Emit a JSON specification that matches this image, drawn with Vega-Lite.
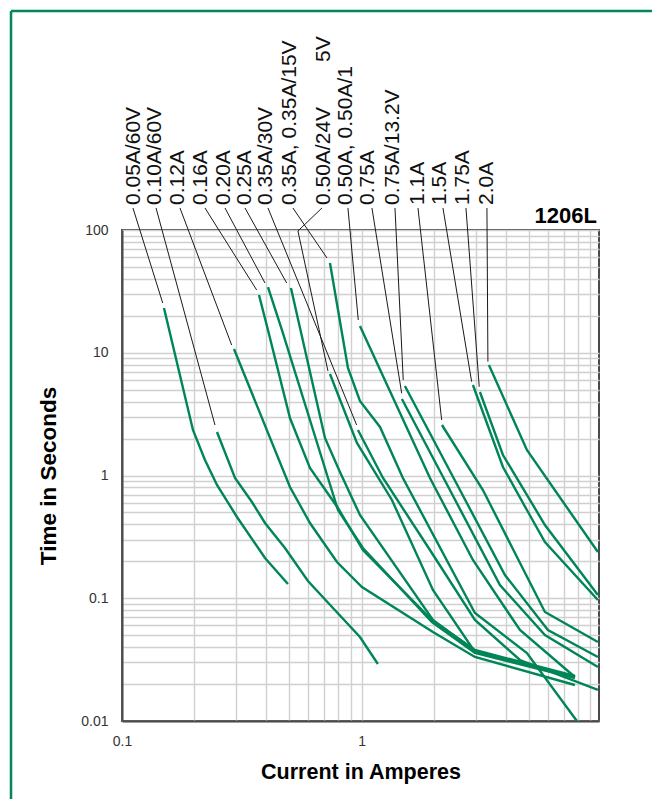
{
  "$schema": "https://vega.github.io/schema/vega-lite/v6.json",
  "width": 477,
  "height": 491,
  "autosize": {"type": "none"},
  "padding": {"left": 122, "top": 230, "right": 53, "bottom": 78},
  "background": "white",
  "config": {"view": {"stroke": "#4a4a4a", "strokeWidth": 2}, "font": "Liberation Sans"},
  "datasets": {
    "curves": [
      {"s": "0.05A/60V", "o": 1, "I": 0.1497, "t": 23.15}, {"s": "0.05A/60V", "o": 2, "I": 0.1978, "t": 2.348}, {"s": "0.05A/60V", "o": 3, "I": 0.222, "t": 1.338}, {"s": "0.05A/60V", "o": 4, "I": 0.2492, "t": 0.8367}, {"s": "0.05A/60V", "o": 5, "I": 0.302, "t": 0.4591}, {"s": "0.05A/60V", "o": 6, "I": 0.3953, "t": 0.2128}, {"s": "0.05A/60V", "o": 7, "I": 0.493, "t": 0.1307},
      {"s": "0.10A/60V", "o": 1, "I": 0.2492, "t": 2.262}, {"s": "0.10A/60V", "o": 2, "I": 0.2963, "t": 0.9541}, {"s": "0.10A/60V", "o": 3, "I": 0.3487, "t": 0.6083}, {"s": "0.10A/60V", "o": 4, "I": 0.3953, "t": 0.4102}, {"s": "0.10A/60V", "o": 5, "I": 0.4789, "t": 0.2566}, {"s": "0.10A/60V", "o": 6, "I": 0.5974, "t": 0.1382}, {"s": "0.10A/60V", "o": 7, "I": 0.7597, "t": 0.08329}, {"s": "0.10A/60V", "o": 8, "I": 0.9847, "t": 0.04833}, {"s": "0.10A/60V", "o": 9, "I": 1.17, "t": 0.02913},
      {"s": "0.12A", "o": 1, "I": 0.2934, "t": 10.73}, {"s": "0.12A", "o": 2, "I": 0.5025, "t": 0.8058}, {"s": "0.12A", "o": 3, "I": 0.609, "t": 0.4102}, {"s": "0.12A", "o": 4, "I": 0.7896, "t": 0.1974}, {"s": "0.12A", "o": 5, "I": 1.004, "t": 0.1235}, {"s": "0.12A", "o": 6, "I": 1.986, "t": 0.0531}, {"s": "0.12A", "o": 7, "I": 2.974, "t": 0.03322}, {"s": "0.12A", "o": 8, "I": 7.775, "t": 0.01965},
      {"s": "0.16A", "o": 1, "I": 0.3731, "t": 29.54}, {"s": "0.16A", "o": 2, "I": 0.4068, "t": 15.32}, {"s": "0.16A", "o": 3, "I": 0.5025, "t": 2.94}, {"s": "0.16A", "o": 4, "I": 0.609, "t": 1.151}, {"s": "0.16A", "o": 5, "I": 0.7972, "t": 0.5435}, {"s": "0.16A", "o": 6, "I": 1.013, "t": 0.2472}, {"s": "0.16A", "o": 7, "I": 1.967, "t": 0.0665}, {"s": "0.16A", "o": 8, "I": 2.974, "t": 0.03788}, {"s": "0.16A", "o": 9, "I": 7.775, "t": 0.02326},
      {"s": "0.20A", "o": 1, "I": 0.4068, "t": 34.32}, {"s": "0.20A", "o": 2, "I": 0.4654, "t": 15.32}, {"s": "0.20A", "o": 3, "I": 0.609, "t": 2.832}, {"s": "0.20A", "o": 4, "I": 0.7972, "t": 0.5235}, {"s": "0.20A", "o": 5, "I": 1.013, "t": 0.2566}, {"s": "0.20A", "o": 6, "I": 1.967, "t": 0.06404}, {"s": "0.20A", "o": 7, "I": 2.974, "t": 0.03581}, {"s": "0.20A", "o": 8, "I": 7.775, "t": 0.0224},
      {"s": "0.25A", "o": 1, "I": 0.5073, "t": 33.69}, {"s": "0.25A", "o": 2, "I": 0.7035, "t": 2.021}, {"s": "0.25A", "o": 3, "I": 0.8125, "t": 1.068}, {"s": "0.25A", "o": 4, "I": 0.9847, "t": 0.4767}, {"s": "0.25A", "o": 5, "I": 1.986, "t": 0.0665}, {"s": "0.25A", "o": 6, "I": 2.974, "t": 0.03718}, {"s": "0.25A", "o": 7, "I": 7.775, "t": 0.02283},
      {"s": "0.35A/30V", "o": 1, "I": 0.9661, "t": 2.348}, {"s": "0.35A/30V", "o": 2, "I": 1.229, "t": 0.9541}, {"s": "0.35A/30V", "o": 3, "I": 1.93, "t": 0.2472}, {"s": "0.35A/30V", "o": 4, "I": 2.974, "t": 0.0665}, {"s": "0.35A/30V", "o": 5, "I": 4.583, "t": 0.0314}, {"s": "0.35A/30V", "o": 6, "I": 9.697, "t": 0.01789},
      {"s": "0.35A, 0.35A/15V", "o": 1, "I": 0.7381, "t": 53.85}, {"s": "0.35A, 0.35A/15V", "o": 2, "I": 0.8774, "t": 7.513}, {"s": "0.35A, 0.35A/15V", "o": 3, "I": 0.9847, "t": 4.045}, {"s": "0.35A, 0.35A/15V", "o": 4, "I": 1.194, "t": 2.484}, {"s": "0.35A, 0.35A/15V", "o": 5, "I": 1.488, "t": 0.9541}, {"s": "0.35A, 0.35A/15V", "o": 6, "I": 2.974, "t": 0.07585}, {"s": "0.35A, 0.35A/15V", "o": 7, "I": 4.901, "t": 0.03581}, {"s": "0.35A, 0.35A/15V", "o": 8, "I": 7.925, "t": 0.01},
      {"s": "0.50A/24V", "o": 1, "I": 0.7381, "t": 6.713}, {"s": "0.50A/24V", "o": 2, "I": 0.9568, "t": 1.84}, {"s": "0.50A/24V", "o": 3, "I": 1.339, "t": 0.6316}, {"s": "0.50A/24V", "o": 4, "I": 1.986, "t": 0.1167}, {"s": "0.50A/24V", "o": 5, "I": 2.974, "t": 0.03648}, {"s": "0.50A/24V", "o": 6, "I": 7.775, "t": 0.02283},
      {"s": "0.50A, 0.50A/15V", "o": 1, "I": 0.9847, "t": 16.52}, {"s": "0.50A, 0.50A/15V", "o": 2, "I": 1.93, "t": 0.9541}, {"s": "0.50A, 0.50A/15V", "o": 3, "I": 2.917, "t": 0.2049}, {"s": "0.50A, 0.50A/15V", "o": 4, "I": 4.583, "t": 0.05511}, {"s": "0.50A, 0.50A/15V", "o": 5, "I": 7.775, "t": 0.02283},
      {"s": "0.75A", "o": 1, "I": 1.474, "t": 4.2}, {"s": "0.75A", "o": 2, "I": 2.338, "t": 0.762}, {"s": "0.75A", "o": 3, "I": 3.781, "t": 0.1282}, {"s": "0.75A", "o": 4, "I": 5.828, "t": 0.05018}, {"s": "0.75A", "o": 5, "I": 9.697, "t": 0.02754},
      {"s": "0.75A/13.2V", "o": 1, "I": 1.517, "t": 5.36}, {"s": "0.75A/13.2V", "o": 2, "I": 2.575, "t": 0.762}, {"s": "0.75A/13.2V", "o": 3, "I": 3.968, "t": 0.1547}, {"s": "0.75A/13.2V", "o": 4, "I": 5.998, "t": 0.05511}, {"s": "0.75A/13.2V", "o": 5, "I": 9.697, "t": 0.03322},
      {"s": "1.1A", "o": 1, "I": 2.166, "t": 2.579}, {"s": "1.1A", "o": 2, "I": 3.211, "t": 0.762}, {"s": "1.1A", "o": 3, "I": 5.828, "t": 0.07727}, {"s": "1.1A", "o": 4, "I": 9.697, "t": 0.04401},
      {"s": "1.5A", "o": 1, "I": 2.917, "t": 5.462}, {"s": "1.5A", "o": 2, "I": 3.893, "t": 1.173}, {"s": "1.5A", "o": 3, "I": 4.901, "t": 0.5235}, {"s": "1.5A", "o": 4, "I": 5.828, "t": 0.2872}, {"s": "1.5A", "o": 5, "I": 9.697, "t": 0.09676},
      {"s": "1.75A", "o": 1, "I": 3.12, "t": 4.789}, {"s": "1.75A", "o": 2, "I": 3.893, "t": 1.469}, {"s": "1.75A", "o": 3, "I": 5.828, "t": 0.3951}, {"s": "1.75A", "o": 4, "I": 9.697, "t": 0.1063},
      {"s": "2.0A", "o": 1, "I": 3.402, "t": 7.947}, {"s": "2.0A", "o": 2, "I": 4.901, "t": 1.613}, {"s": "2.0A", "o": 3, "I": 9.697, "t": 0.2381}
    ],
    "leaders": [
      {"I": 0.1111, "t": 151.1, "I2": 0.1479, "t2": 25.43},
      {"I": 0.1387, "t": 151.1, "I2": 0.2444, "t2": 2.579},
      {"I": 0.1746, "t": 151.1, "I2": 0.2869, "t2": 11.56},
      {"I": 0.222, "t": 151.1, "I2": 0.3649, "t2": 32.45},
      {"I": 0.2691, "t": 151.1, "I2": 0.3953, "t2": 37.0},
      {"I": 0.3262, "t": 151.1, "I2": 0.4869, "t2": 37.0},
      {"I": 0.4068, "t": 151.1, "I2": 0.9539, "t2": 2.579},
      {"I": 0.5171, "t": 151.1, "I2": 0.7172, "t2": 59.15},
      {"I": 0.6834, "t": 151.1, "I2": 0.5426, "t2": 98.15},
      {"I": 0.5426, "t": 98.15, "I2": 0.7241, "t2": 7.101},
      {"I": 0.8774, "t": 151.1, "I2": 0.9688, "t2": 18.48},
      {"I": 1.105, "t": 151.1, "I2": 1.471, "t2": 4.674},
      {"I": 1.379, "t": 151.1, "I2": 1.493, "t2": 5.998},
      {"I": 1.72, "t": 151.1, "I2": 2.16, "t2": 2.832},
      {"I": 2.187, "t": 151.1, "I2": 2.881, "t2": 5.811},
      {"I": 2.728, "t": 151.1, "I2": 3.099, "t2": 5.29},
      {"I": 3.3375, "t": 151.1, "I2": 3.369, "t2": 8.455}
    ],
    "labels": [
      {"label": "0.05A/60V", "I": 0.1122, "t": 159.8},
      {"label": "0.10A/60V", "I": 0.1373, "t": 159.8},
      {"label": "0.12A", "I": 0.1721, "t": 159.8},
      {"label": "0.16A", "I": 0.2137, "t": 159.8},
      {"label": "0.20A", "I": 0.2665, "t": 159.8},
      {"label": "0.25A", "I": 0.3262, "t": 159.8},
      {"label": "0.35A/30V", "I": 0.399, "t": 159.8},
      {"label": "0.35A, 0.35A/15V", "I": 0.5025, "t": 159.8},
      {"label": "0.50A/24V", "I": 0.6967, "t": 159.8},
      {"label": "5V", "I": 0.6967, "t": 2336},
      {"label": "0.50A, 0.50A/1", "I": 0.865, "t": 159.8},
      {"label": "0.75A", "I": 1.0634, "t": 159.8},
      {"label": "0.75A/13.2V", "I": 1.3523, "t": 159.8},
      {"label": "1.1A", "I": 1.7197, "t": 159.8},
      {"label": "1.5A", "I": 2.1244, "t": 159.8},
      {"label": "1.75A", "I": 2.65, "t": 159.8},
      {"label": "2.0A", "I": 3.3375, "t": 159.8}
    ],
    "frame": [
      {"I": 0.03441, "t": 6083, "I2": 20, "t2": 6083},
      {"I": 0.03441, "t": 6083, "I2": 0.03441, "t2": 0.001}
    ],
    "tag": [{"label": "1206L", "I": 9.606, "t": 114.0}]
  },
  "encoding": {
    "x": {
      "field": "I", "type": "quantitative",
      "scale": {"type": "log", "domain": [0.1, 9.8], "nice": false},
      "axis": {
        "values": [0.1, 0.2, 0.3, 0.4, 0.5, 0.6, 0.7, 0.8, 0.9, 1, 2, 3, 4, 5, 6, 7, 8, 9],
        "labelExpr": "datum.value == 0.1 ? '0.1' : datum.value == 1 ? '1' : ''",
        "ticks": false, "grid": true, "gridColor": "#d0d0d0", "gridWidth": 1.4,
        "domainColor": "#4a4a4a", "domainWidth": 2,
        "labelFontSize": 14, "labelColor": "#333333", "labelPadding": 13,
        "labelFlush": false, "labelOverlap": false,
        "title": "Current in Amperes", "titleFontSize": 21.5, "titleFontWeight": "bold",
        "titleColor": "#000000", "titlePadding": 13
      }
    },
    "y": {
      "field": "t", "type": "quantitative",
      "scale": {"type": "log", "domain": [0.01, 100], "nice": false},
      "axis": {
        "values": [0.01, 0.02, 0.03, 0.04, 0.05, 0.06, 0.07, 0.08, 0.09, 0.1, 0.2, 0.3, 0.4, 0.5, 0.6, 0.7, 0.8, 0.9, 1, 2, 3, 4, 5, 6, 7, 8, 9, 10, 20, 30, 40, 50, 60, 70, 80, 90, 100],
        "labelExpr": "datum.value == 0.01 ? '0.01' : datum.value == 0.1 ? '0.1' : datum.value == 1 ? '1' : datum.value == 10 ? '10' : datum.value == 100 ? '100' : ''",
        "ticks": false, "grid": true, "gridColor": "#d0d0d0", "gridWidth": 1.4,
        "domainColor": "#4a4a4a", "domainWidth": 2,
        "labelFontSize": 14, "labelColor": "#333333", "labelPadding": 14,
        "labelFlush": false, "labelOverlap": false,
        "title": "Time in Seconds", "titleFontSize": 22.5, "titleFontWeight": "bold",
        "titleColor": "#000000", "titlePadding": 20
      }
    }
  },
  "layer": [
    {
      "data": {"name": "curves"},
      "mark": {"type": "line", "color": "#008656", "strokeWidth": 2.4, "clip": false},
      "encoding": {
        "detail": {"field": "s", "type": "nominal"},
        "order": {"field": "o", "type": "quantitative"}
      }
    },
    {
      "data": {"name": "leaders"},
      "mark": {"type": "rule", "color": "#1a1a1a", "strokeWidth": 1, "clip": false},
      "encoding": {"x2": {"field": "I2"}, "y2": {"field": "t2"}}
    },
    {
      "data": {"name": "frame"},
      "mark": {"type": "rule", "color": "#00875a", "strokeWidth": 2.5, "clip": false},
      "encoding": {"x2": {"field": "I2"}, "y2": {"field": "t2"}}
    },
    {
      "data": {"name": "labels"},
      "mark": {"type": "text", "angle": 270, "align": "left", "baseline": "middle", "fontSize": 21, "color": "#111111", "font": "Liberation Sans", "clip": false},
      "encoding": {"text": {"field": "label", "type": "nominal"}}
    },
    {
      "data": {"name": "tag"},
      "mark": {"type": "text", "align": "right", "baseline": "alphabetic", "fontSize": 22, "fontWeight": "bold", "color": "#000000", "font": "Liberation Sans", "clip": false},
      "encoding": {"text": {"field": "label", "type": "nominal"}}
    }
  ]
}
